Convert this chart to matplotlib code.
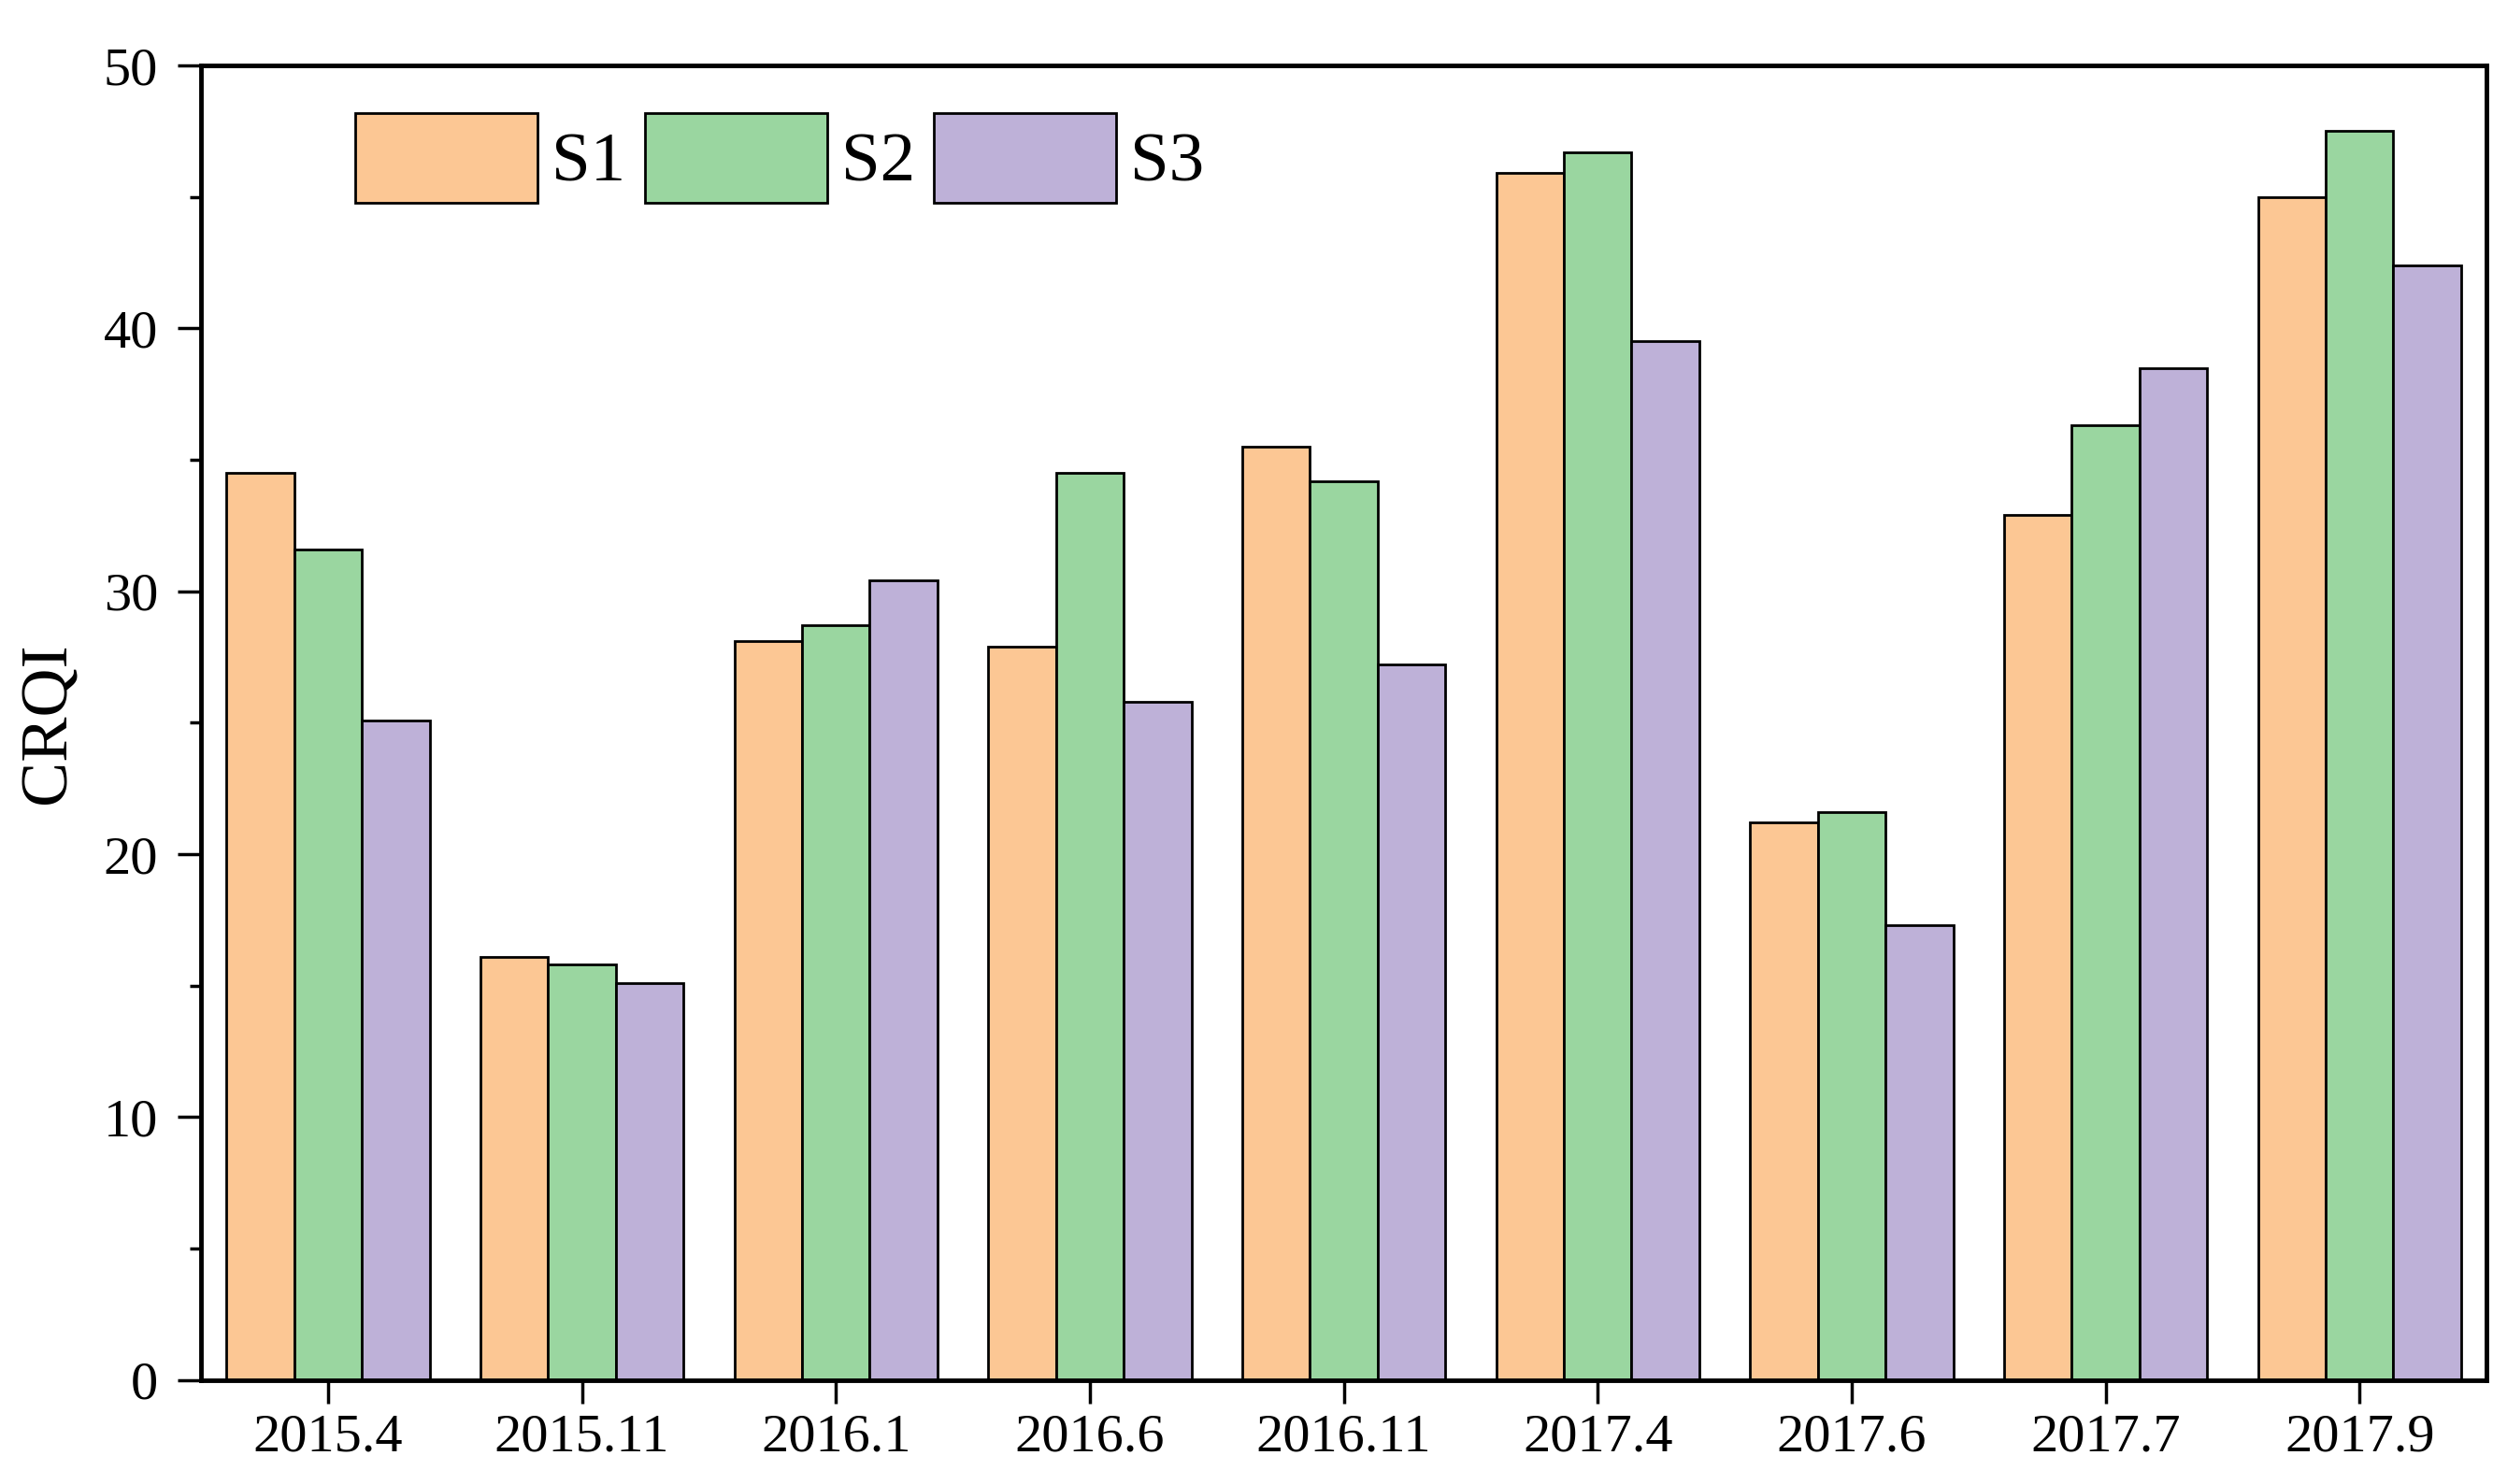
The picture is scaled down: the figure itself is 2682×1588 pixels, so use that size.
import matplotlib.pyplot as plt
import numpy as np

# Datos
fechas = ['2015.4', '2015.11', '2016.1', '2016.6', '2016.11',
          '2017.4', '2017.6', '2017.7', '2017.9']
s1 = [34.5, 16.1, 28.1, 27.9, 35.5, 45.9, 21.2, 32.9, 45.0]
s2 = [31.6, 15.8, 28.7, 34.5, 34.2, 46.7, 21.6, 36.3, 47.5]
s3 = [25.1, 15.1, 30.4, 25.8, 27.2, 39.5, 17.3, 38.5, 42.4]
series = ['S1', 'S2', 'S3']
colores = ['#FCC794', '#9AD6A0', '#BEB1D8']

plt.rcParams['font.family'] = ['Liberation Serif', 'DejaVu Serif']

fig = plt.figure(figsize=(26.82, 15.88), dpi=100)
ax = fig.add_axes([0.0802, 0.0701, 0.9116, 0.8858])

x = np.arange(len(fechas))
w = 0.8 / 3
for i, (vals, nombre, c) in enumerate(zip([s1, s2, s3], series, colores)):
    ax.bar(x + (i - 1) * w, vals, width=w, color=c, edgecolor='black',
           linewidth=2, label=nombre)

ax.set_xlim(-0.5, len(fechas) - 0.5)
ax.set_ylim(0, 50)
ax.set_xticks(x)
ax.set_xticklabels(fechas)
ax.set_yticks(np.arange(0, 51, 10))
ax.set_yticks(np.arange(5, 50, 10), minor=True)
ax.tick_params(axis='both', which='major', direction='out', length=18,
               width=2.5, labelsize=42, pad=8)
ax.tick_params(axis='y', which='major', pad=15)
ax.tick_params(axis='y', which='minor', direction='out', length=9, width=2.5)
for s in ax.spines.values():
    s.set_linewidth(3.5)

ax.set_ylabel('CRQI', fontsize=52, labelpad=19)

ax.legend(loc='upper left', bbox_to_anchor=(0.0675, 0.964), ncol=3,
          frameon=False, fontsize=54, handlelength=2.6, handleheight=1.6,
          handletextpad=0.2, columnspacing=0.27, borderpad=0,
          borderaxespad=0)

fig.savefig('out.png', dpi=100)
